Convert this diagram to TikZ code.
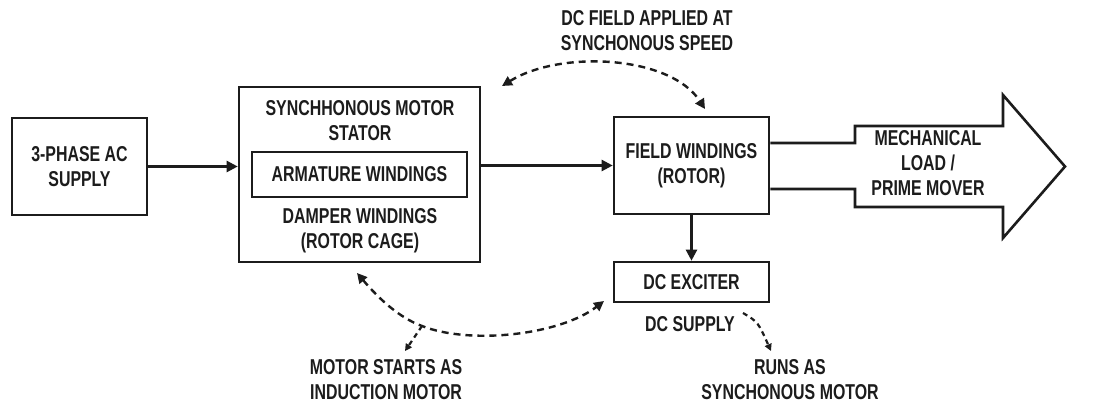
\documentclass[tikz,border=0pt]{standalone}
\usepackage{fontspec}
\setmainfont{Liberation Sans}[FakeStretch=0.74]
\usetikzlibrary{arrows.meta}
\definecolor{ink}{HTML}{1C1C1C}
\begin{document}
\begin{tikzpicture}[x=1pt,y=-1pt,
  every node/.style={text=ink,font=\fontsize{21.5}{25}\selectfont\bfseries,align=center,inner sep=0pt},
  blockbox/.style={draw=ink,line width=2.6pt,minimum width=#1},
  solidarrow/.style={draw=ink,line width=2.3pt,-{Triangle[length=11pt,width=11pt]}},
  dasharrow/.style={draw=ink,line width=2.4pt,dash pattern=on 7pt off 5pt,{Triangle[length=10pt,width=10pt]}-{Triangle[length=10pt,width=10pt]}},
  dashone/.style={draw=ink,line width=2.2pt,dash pattern=on 5pt off 4pt,-{Triangle[length=7pt,width=7pt]}}]
\useasboundingbox[fill=white] (0,0) rectangle (1109,403);

% blocks
\node[blockbox=135pt,minimum height=97pt] (supply) at (79.5,166.5) {3-PHASE AC\\SUPPLY};
\node[blockbox=241pt,minimum height=175pt] (stator) at (359.5,174.5) {};
\node (statortitle) at (360,121) {SYNCHHONOUS MOTOR\\STATOR};
\node[blockbox=215pt,minimum height=45pt] (armature) at (359.5,174.5) {ARMATURE WINDINGS};
\node (damper) at (360,231) {DAMPER WINDINGS\\(ROTOR CAGE)};
\node[blockbox=155pt,minimum height=97pt] (field) at (691.5,165.5) {FIELD WINDINGS\\(ROTOR)};
\node[blockbox=155pt,minimum height=40pt] (exciter) at (691.5,282) {DC EXCITER};
\node (dcsupply) at (690,324) {DC SUPPLY};

% labels
\node (toplabel) at (647,31) {DC FIELD APPLIED AT\\SYNCHONOUS SPEED};
\node (startlabel) at (386,380) {MOTOR STARTS AS\\INDUCTION MOTOR};
\node (runlabel) at (790,380) {RUNS AS\\SYNCHONOUS MOTOR};

% big output arrow
\draw[draw=ink,line width=2.6pt,line join=miter]
  (field.east |- 0,143) -- (855,143) -- (855,126) -- (1003,126) -- (1003,95)
  -- (1065,166.5) -- (1003,238) -- (1003,207) -- (855,207) -- (855,189) -- (field.east |- 0,189);
\node (mechlabel) at (928,163.5) {MECHANICAL\\LOAD /\\PRIME MOVER};

% solid connectors
\draw[solidarrow] (supply.east) -- (supply.east -| stator.west);
\draw[solidarrow] (stator.east |- field.west) -- (field.west);
\draw[solidarrow] (field.south) -- (exciter.north);

% dashed connectors
\coordinate (t1) at (502,86);
\coordinate (t2) at (705,109);
\draw[dasharrow] (t1) .. controls (560,50) and (670,55) .. (t2);

\coordinate (b1) at (357,273);
\coordinate (bj) at (422,326);
\coordinate (b2) at (604,301);
\coordinate (bl) at (405,351);
\draw[dasharrow] (b1) .. controls (380,300) and (400,318) .. (bj) .. controls (470,345) and (560,335) .. (b2);
\draw[dashone] (bj) -- (bl);

\coordinate (s1) at (743,313);
\coordinate (s2) at (771,351);
\draw[dashone] (s1) .. controls (758,322) .. (s2);
\end{tikzpicture}
\end{document}
